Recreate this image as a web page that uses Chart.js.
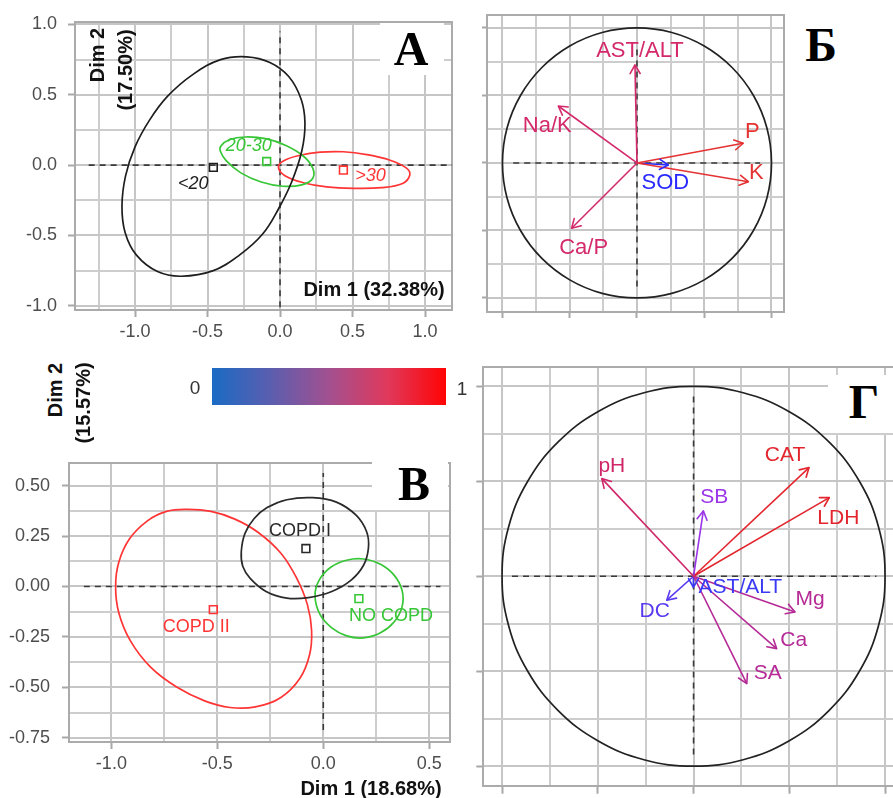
<!DOCTYPE html>
<html>
<head>
<meta charset="utf-8">
<script src="https://cdn.jsdelivr.net/npm/chart.js@4.4.1/dist/chart.umd.min.js"></script>
<style>
html,body{margin:0;padding:0;background:#fff;overflow:hidden}
#wrap{position:relative;width:893px;height:798px;overflow:hidden;background:#fff}
canvas{position:absolute}
.t{position:absolute;white-space:nowrap;transform:translate(-50%,-50%);font-family:"Liberation Sans",Arial,sans-serif;line-height:1;z-index:3}
.dim{font-weight:bold;font-size:20px;color:#111}
.rot{transform:translate(-50%,-50%) rotate(-90deg)}
.box{position:absolute;background:#fff;z-index:2}
.big{font-family:"Liberation Serif","Times New Roman",serif;font-weight:bold;font-size:48px;color:#000}
.cb{font-size:19px;color:#333}
#bar{position:absolute;left:212px;top:368px;width:234px;height:37px;
  background:linear-gradient(to right,#1a6bc4 0%,#5b5eaf 25%,#a2508f 50%,#e0395c 75%,#ff0404 100%)}
</style>
</head>
<body>
<div id="wrap">
  <canvas id="cA" width="462" height="345" style="left:0;top:0"></canvas>
  <canvas id="cB" width="330" height="340" style="left:465px;top:0"></canvas>
  <canvas id="cV" width="462" height="358" style="left:0;top:440px"></canvas>
  <canvas id="cG" width="460" height="443" style="left:462px;top:355px"></canvas>

  <div class="t dim rot" style="left:97px;top:55px">Dim 2</div>
  <div class="t dim rot" style="left:125px;top:70px">(17.50%)</div>
  <div class="t dim" style="left:374px;top:289px">Dim 1 (32.38%)</div>

  <div class="t dim rot" style="left:55px;top:390px">Dim 2</div>
  <div class="t dim rot" style="left:83px;top:403px">(15.57%)</div>
  <div class="t dim" style="left:371px;top:788px">Dim 1 (18.68%)</div>

  <div id="bar"></div>
  <div class="t cb" style="left:195px;top:387px">0</div>
  <div class="t cb" style="left:462px;top:388px">1</div>

  <div class="box" style="left:380px;top:23px;width:64px;height:52px"></div>
  <div class="t big" style="left:411px;top:49px">А</div>
  <div class="t big" style="left:821px;top:45px">Б</div>
  <div class="box" style="left:372px;top:455px;width:76px;height:55px"></div>
  <div class="t big" style="left:414px;top:484px">В</div>
  <div class="box" style="left:828px;top:375px;width:65px;height:58px"></div>
  <div class="t big" style="left:864px;top:402px">Г</div>
</div>
<script>
// ---- Panel А: individuals by age group ----
const PA_GROUPS = ['<20', '20-30', '>30'];
const PA_CX = [-0.46, -0.092, 0.437];
const PA_CY = [-0.016, 0.026, -0.035];
const PA_ELL_LT20 = [[-0.23,0.77],[-0.07,0.73],[0.06,0.63],[0.145,0.47],[0.172,0.3],[0.15,0.1],[0.08,-0.12],
  [-0.01,-0.31],[-0.12,-0.49],[-0.28,-0.64],[-0.46,-0.75],[-0.68,-0.79],[-0.845,-0.757],[-0.99,-0.64],
  [-1.068,-0.48],[-1.09,-0.29],[-1.065,-0.075],[-1.0,0.13],[-0.9,0.32],[-0.775,0.49],[-0.6,0.645],[-0.41,0.75]];
const PA_ELL_2030 = [[-0.409,0.135],[-0.35,0.18],[-0.24,0.2],[-0.1,0.188],[0.04,0.14],[0.16,0.065],
  [0.225,-0.02],[0.225,-0.095],[0.15,-0.14],[0.02,-0.15],[-0.13,-0.12],[-0.27,-0.055],[-0.37,0.03],[-0.41,0.095]];
const PA_ELL_GT30 = [[-0.011,-0.016],[0.023,0.03],[0.138,0.07],[0.276,0.092],[0.437,0.095],[0.598,0.075],
  [0.759,0.035],[0.87,-0.02],[0.895,-0.07],[0.845,-0.13],[0.7,-0.16],[0.506,-0.165],[0.322,-0.155],
  [0.161,-0.125],[0.034,-0.075]];
const PA_X_MAJOR = [-1, -0.5, 0, 0.5, 1];
const PA_X_MINOR = [-1.25, -0.75, -0.25, 0.25, 0.75];
const PA_X_LABELS = ['-1.0', '-0.5', '0.0', '0.5', '1.0'];
const PA_Y_MAJOR = [-1, -0.5, 0, 0.5, 1];
const PA_Y_MINOR = [-0.75, -0.25, 0.25, 0.75];
const PA_Y_LABELS = ['-1.0', '-0.5', '0.0', '0.5', '1.0'];

// ---- Panel Б: variables ----
const PB_VARS = ['AST/ALT', 'Na/K', 'P', 'K', 'SOD', 'Ca/P'];
const PB_X = [-0.015, -0.585, 0.79, 0.828, 0.233, -0.486];
const PB_Y = [0.726, 0.422, 0.146, -0.139, -0.015, -0.484];

// ---- Panel В: individuals by COPD stage ----
const PV_GROUPS = ['COPD I', 'COPD II', 'NO COPD'];
const PV_CX = [-0.082, -0.519, 0.168];
const PV_CY = [0.188, -0.115, -0.06];
const PV_ELL_I = [[-0.387,0.172],[-0.37,0.262],[-0.327,0.336],[-0.265,0.391],[-0.172,0.43],[-0.05,0.44],
  [0.062,0.418],[0.156,0.352],[0.205,0.27],[0.213,0.19],[0.19,0.105],[0.13,0.03],[0.04,-0.025],
  [-0.07,-0.055],[-0.172,-0.058],[-0.27,-0.025],[-0.345,0.04],[-0.38,0.1]];
const PV_ELL_II = [[-0.639,0.382],[-0.53,0.372],[-0.42,0.335],[-0.31,0.27],[-0.2,0.165],[-0.125,0.04],
  [-0.075,-0.09],[-0.055,-0.22],[-0.065,-0.34],[-0.11,-0.455],[-0.2,-0.55],[-0.32,-0.597],[-0.44,-0.6],
  [-0.56,-0.567],[-0.69,-0.5],[-0.815,-0.4],[-0.91,-0.27],[-0.965,-0.13],[-0.98,0.0],[-0.965,0.12],
  [-0.915,0.235],[-0.83,0.325],[-0.74,0.372]];
const PV_ELL_NO = [[-0.039,-0.047],[-0.02,0.03],[0.035,0.095],[0.11,0.13],[0.19,0.136],[0.27,0.11],
  [0.335,0.055],[0.372,-0.02],[0.372,-0.1],[0.335,-0.175],[0.27,-0.23],[0.19,-0.255],[0.11,-0.245],
  [0.04,-0.205],[-0.015,-0.14]];
const PV_X_MAJOR = [-1, -0.5, 0, 0.5];
const PV_X_MINOR = [-0.75, -0.25, 0.25];
const PV_X_LABELS = ['-1.0', '-0.5', '0.0', '0.5'];
const PV_Y_MAJOR = [-0.75, -0.5, -0.25, 0, 0.25, 0.5];
const PV_Y_MINOR = [-0.625, -0.375, -0.125, 0.125, 0.375];
const PV_Y_LABELS = ['-0.75', '-0.50', '-0.25', '0.00', '0.25', '0.50'];

// ---- Panel Г: variables ----
const PG_VARS = ['pH', 'SB', 'CAT', 'LDH', 'Mg', 'Ca', 'SA', 'DC', 'AST/ALT'];
const PG_X = [-0.479, 0.051, 0.603, 0.709, 0.53, 0.434, 0.278, -0.14, -0.001];
const PG_Y = [0.514, 0.344, 0.572, 0.414, -0.188, -0.381, -0.565, -0.126, -0.058];

// correlation circle (radius 1), read every 15 degrees
const CIRCLE = [[1,0],[0.966,0.259],[0.866,0.5],[0.707,0.707],[0.5,0.866],[0.259,0.966],[0,1],
  [-0.259,0.966],[-0.5,0.866],[-0.707,0.707],[-0.866,0.5],[-0.966,0.259],[-1,0],[-0.966,-0.259],
  [-0.866,-0.5],[-0.707,-0.707],[-0.5,-0.866],[-0.259,-0.966],[0,-1],[0.259,-0.966],[0.5,-0.866],
  [0.707,-0.707],[0.866,-0.5],[0.966,-0.259]];
const VAR_MAJOR = [-1, -0.5, 0, 0.5, 1];
const VAR_MINOR = [-0.75, -0.25, 0.25, 0.75];

// styles
const GRID_MAJOR = '#c6c6c6', GRID_MINOR = '#cdcdcd', FRAME = '#ababab', TICKC = '#a8a8a8', TICKTXT = '#4d4d4d', DASH = '#3a3a3a';
const GROUP_COL_A = ['#1e1e1e', '#36c636', '#ff3535'];
const GROUP_COL_V = ['#2a2a2a', '#ff3535', '#36c636'];
const PA_TAG_OFF = [[-20,17],[-18,-15],[27,6]];
const PV_TAG_OFF = [[-6,-18],[-17,17],[32,17]];
const PB_COL = ['#d42a6b', '#d42a6b', '#e53232', '#e53232', '#2a2aff', '#d42a6b'];
const PB_TAG_OFF = [[5,-14],[-11,20],[9,-11],[8,-9],[-3,18],[12,20]];
const PG_COL = ['#cf2667', '#9b35e8', '#e3262e', '#e3262e', '#b52a96', '#b52a96', '#b52a96', '#5a3af0', '#3a3af5'];
const PG_TAG_OFF = [[10,-12],[11,-14],[-24,-12],[9,21],[15,-13],[17,-8],[21,-10],[-12,11],[47,0]];
const HEAD = 10;

Chart.defaults.font.family = '"Liberation Sans", Arial, sans-serif';

function axis(o) {
  const all = o.major.concat(o.minor).sort((a, b) => a - b);
  const majorIdx = v => o.major.findIndex(m => Math.abs(m - v) < 1e-6);
  const isMaj = c => c.tick && majorIdx(c.tick.value) >= 0;
  return {
    type: 'linear', min: o.min, max: o.max,
    afterBuildTicks: s => { s.ticks = all.map(v => ({value: v, major: majorIdx(v) >= 0})); },
    afterFit: s => { if (s.isHorizontal()) s.height = o.fit; else s.width = o.fit; },
    border: {display: false},
    grid: {
      drawOnChartArea: false,
      drawTicks: true, tickLength: o.tl, tickWidth: 2,
      tickColor: c => isMaj(c) ? TICKC : 'rgba(0,0,0,0)'
    },
    ticks: {
      autoSkip: false, maxRotation: 0, padding: o.pad || 0, color: TICKTXT, font: {size: 18},
      callback: v => { const i = majorIdx(v); return (i >= 0 && o.labels) ? o.labels[i] : ''; }
    }
  };
}

function closed(pts, color) {
  const d = pts.map(p => ({x: p[0], y: p[1]}));
  const n = d.length;
  const data = [d[n - 1]].concat(d, [d[0], d[1]]);
  return {
    data, showLine: true, tension: 0.4, borderColor: color, borderWidth: 1.7, pointRadius: 0, fill: false,
    segment: {borderColor: c => (c.p0DataIndex === 0 || c.p1DataIndex === n + 2) ? 'rgba(0,0,0,0)' : color}
  };
}
function marker(x, y, color, text, off, font) {
  return {data: [{x, y}], pointStyle: 'rect', pointRadius: 5.5, borderWidth: 1.6, borderColor: color,
    backgroundColor: 'rgba(0,0,0,0)', tag: {text, dx: off[0], dy: off[1], color, font}};
}
function arrow(x, y, color, text, off, font) {
  return {data: [{x: 0, y: 0}, {x, y}], showLine: true, borderColor: color, borderWidth: 1.6, pointRadius: 0,
    arrow: true, tag: {text, dx: off[0], dy: off[1], color, font}};
}
function dashed(pts) {
  return {data: pts.map(p => ({x: p[0], y: p[1]})), showLine: true, borderColor: DASH, borderWidth: 1.6,
    borderDash: [6, 5], pointRadius: 0};
}

// panel grid (major + minor lines at the scale ticks) and grey frame
const framePlugin = {
  id: 'frame',
  beforeDatasetsDraw(chart) {
    const {ctx, chartArea: a, scales} = chart;
    ctx.save();
    ['x', 'y'].forEach(k => {
      const s = scales[k];
      s.ticks.forEach(t => {
        const p = Math.round(s.getPixelForValue(t.value));
        ctx.strokeStyle = t.major ? GRID_MAJOR : GRID_MINOR;
        ctx.lineWidth = 2;
        ctx.beginPath();
        if (k === 'x') { ctx.moveTo(p, a.top); ctx.lineTo(p, a.bottom); }
        else { ctx.moveTo(a.left, p); ctx.lineTo(a.right, p); }
        ctx.stroke();
      });
    });
    ctx.strokeStyle = FRAME; ctx.lineWidth = 2;
    ctx.strokeRect(Math.round(a.left), Math.round(a.top), Math.round(a.right - a.left), Math.round(a.bottom - a.top));
    ctx.restore();
  }
};
const markPlugin = {
  id: 'marks',
  afterDatasetsDraw(chart) {
    const ctx = chart.ctx;
    chart.data.datasets.forEach((ds, i) => {
      const pts = chart.getDatasetMeta(i).data;
      if (!pts.length) return;
      const tip = pts[pts.length - 1];
      ctx.save();
      if (ds.arrow) {
        const from = pts[pts.length - 2];
        const a = Math.atan2(tip.y - from.y, tip.x - from.x);
        ctx.strokeStyle = ds.borderColor; ctx.lineWidth = ds.borderWidth; ctx.lineCap = 'round';
        ctx.beginPath();
        [a + Math.PI * 5 / 6, a - Math.PI * 5 / 6].forEach(b => {
          ctx.moveTo(tip.x, tip.y);
          ctx.lineTo(tip.x + HEAD * Math.cos(b), tip.y + HEAD * Math.sin(b));
        });
        ctx.stroke();
      }
      if (ds.tag) {
        ctx.fillStyle = ds.tag.color; ctx.font = ds.tag.font;
        ctx.textAlign = 'center'; ctx.textBaseline = 'middle';
        ctx.fillText(ds.tag.text, tip.x + ds.tag.dx, tip.y + ds.tag.dy);
      }
      ctx.restore();
    });
  }
};

function makeChart(id, datasets, x, y, pad) {
  return new Chart(document.getElementById(id), {
    type: 'scatter',
    data: {datasets},
    options: {
      responsive: false, animation: false, events: [],
      layout: {padding: pad},
      plugins: {legend: {display: false}, tooltip: {enabled: false}},
      scales: {x, y}
    },
    plugins: [framePlugin, markPlugin]
  });
}

const SANS = '"Liberation Sans", Arial, sans-serif';

// Panel А
makeChart('cA', [
  ...PA_GROUPS.map((g, i) => marker(PA_CX[i], PA_CY[i], GROUP_COL_A[i], g, PA_TAG_OFF[i], 'italic 18px ' + SANS)),
  closed(PA_ELL_LT20, GROUP_COL_A[0]),
  closed(PA_ELL_2030, GROUP_COL_A[1]),
  closed(PA_ELL_GT30, GROUP_COL_A[2]),
  dashed([[-1.32, 0], [1.19, 0]]),
  dashed([[0, -1.01], [0, 0.95]])
],
  axis({min: -1.414, max: 1.186, major: PA_X_MAJOR, minor: PA_X_MINOR, labels: PA_X_LABELS, fit: 35, tl: 7, pad: 4}),
  axis({min: -1.03, max: 1.019, major: PA_Y_MAJOR, minor: PA_Y_MINOR, labels: PA_Y_LABELS, fit: 75, tl: 7, pad: 11}),
  {top: 17, right: 10, left: 0, bottom: 0});

// Panel Б
makeChart('cB', [
  ...PB_VARS.map((v, i) => arrow(PB_X[i], PB_Y[i], PB_COL[i], v, PB_TAG_OFF[i], '22px ' + SANS)),
  closed(CIRCLE, '#222'),
  dashed([[-0.92, 0], [0.915, 0]]),
  dashed([[0, -0.915], [0, 0.86]])
],
  axis({min: -1.115, max: 1.093, major: VAR_MAJOR, minor: VAR_MINOR, fit: 28, tl: 6}),
  axis({min: -1.104, max: 1.096, major: VAR_MAJOR, minor: VAR_MINOR, fit: 22, tl: 5}),
  {top: 15, right: 11, left: 0, bottom: 0});

// Panel В
makeChart('cV', [
  ...PV_GROUPS.map((g, i) => marker(PV_CX[i], PV_CY[i], GROUP_COL_V[i], g, PV_TAG_OFF[i], '18px ' + SANS)),
  closed(PV_ELL_I, GROUP_COL_V[0]),
  closed(PV_ELL_II, GROUP_COL_V[1]),
  closed(PV_ELL_NO, GROUP_COL_V[2]),
  dashed([[-1.13, 0], [0.553, 0]]),
  dashed([[0, -0.712], [0, 0.563]])
],
  axis({min: -1.2, max: 0.598, major: PV_X_MAJOR, minor: PV_X_MINOR, labels: PV_X_LABELS, fit: 56, tl: 7, pad: 4}),
  axis({min: -0.771, max: 0.613, major: PV_Y_MAJOR, minor: PV_Y_MINOR, labels: PV_Y_LABELS, fit: 69, tl: 7, pad: 12}),
  {top: 8, right: 12, left: 0, bottom: 0});

// Panel Г
makeChart('cG', [
  ...PG_VARS.map((v, i) => arrow(PG_X[i], PG_Y[i], PG_COL[i], v, PG_TAG_OFF[i], '21px ' + SANS)),
  closed(CIRCLE, '#222'),
  dashed([[-0.948, 0], [0.955, 0]]),
  dashed([[0, -0.938], [0, 0.956]])
],
  axis({min: -1.098, max: 1.1, major: VAR_MAJOR, minor: VAR_MINOR, fit: 11.3, tl: 7}),
  axis({min: -1.108, max: 1.1, major: VAR_MAJOR, minor: VAR_MINOR, fit: 21.3, tl: 7}),
  {top: 12.3, right: 17.8, left: 0, bottom: 0});
</script>
</body>
</html>
